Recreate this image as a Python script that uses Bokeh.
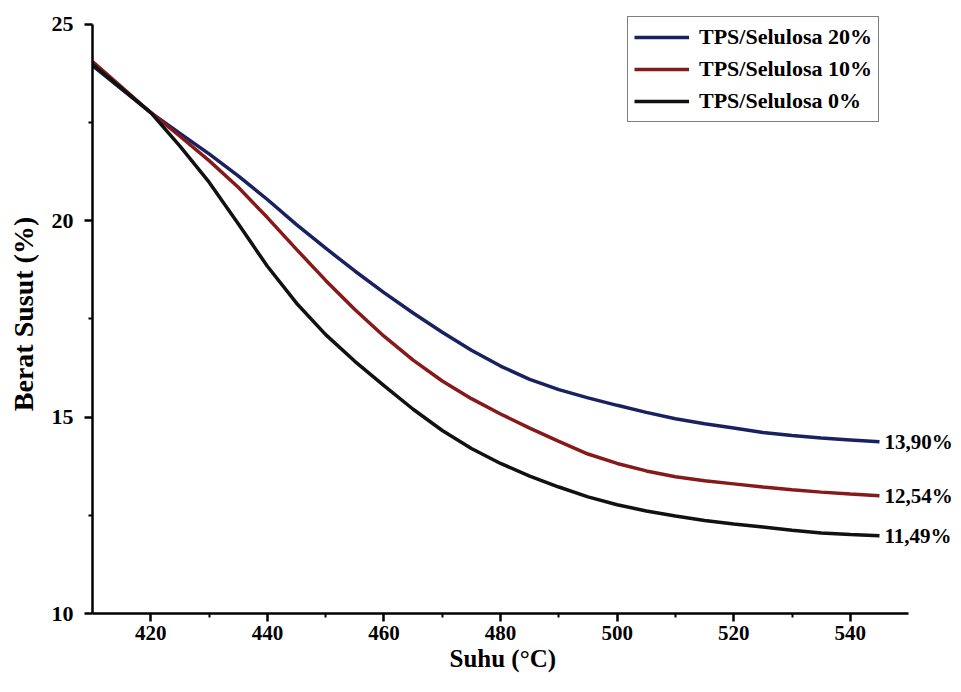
from bokeh.plotting import figure
from bokeh.models import FixedTicker, Legend, LegendItem, Label, Range1d, Title
from bokeh.embed import file_html
from bokeh.resources import INLINE

# ---- data ----
suhu = [410, 415, 420, 425, 430, 435, 440, 445, 450, 455, 460, 465, 470, 475,
        480, 485, 490, 495, 500, 505, 510, 515, 520, 525, 530, 535, 540, 545]
tps20 = [23.95, 23.35, 22.75, 22.22, 21.70, 21.14, 20.54, 19.90, 19.30, 18.72,
         18.17, 17.65, 17.16, 16.70, 16.30, 15.96, 15.70, 15.49, 15.30, 15.12,
         14.96, 14.83, 14.72, 14.61, 14.53, 14.47, 14.42, 14.37]
tps10 = [24.05, 23.40, 22.75, 22.15, 21.53, 20.85, 20.08, 19.27, 18.48, 17.74,
         17.06, 16.45, 15.92, 15.47, 15.08, 14.72, 14.38, 14.06, 13.82, 13.63,
         13.48, 13.38, 13.30, 13.22, 13.15, 13.09, 13.04, 13.00]
tps0 = [23.98, 23.37, 22.75, 21.90, 20.98, 19.92, 18.84, 17.90, 17.10, 16.42,
        15.80, 15.20, 14.66, 14.20, 13.82, 13.50, 13.22, 12.97, 12.77, 12.61,
        12.48, 12.37, 12.28, 12.20, 12.12, 12.05, 12.01, 11.98]
series_names = ["TPS/Selulosa 20%", "TPS/Selulosa 10%", "TPS/Selulosa 0%"]
end_labels = ["13,90%", "12,54%", "11,49%"]
x_ticks = [420, 440, 460, 480, 500, 520, 540]
x_minor = [430, 450, 470, 490, 510, 530]
y_ticks = [10, 15, 20, 25]
y_minor = [12.5, 17.5, 22.5]

FONT = "Liberation Serif"
colors = ["#1a2160", "#861a1a", "#111111"]

p = figure(width=953, height=684, output_backend="svg", toolbar_location=None,
           x_range=Range1d(410, 557.7), y_range=Range1d(10, 25.25),
           min_border_left=92, min_border_right=0, min_border_top=14,
           min_border_bottom=71)
p.outline_line_color = None
p.xgrid.visible = False
p.ygrid.visible = False
p.background_fill_color = "white"

series = [tps20, tps10, tps0]
renderers = []
for ys, c in zip(series, colors):
    r = p.line(suhu, ys, line_color=c, line_width=3.5)
    renderers.append(r)

# end-value labels
for ys, txt in zip(series, end_labels):
    p.add_layout(Label(x=suhu[-1], y=ys[-1], text=txt, x_offset=5,
                       text_baseline="middle", text_align="left",
                       text_font=FONT, text_font_style="bold",
                       text_font_size="21px", text_color="black"))

# axes
for ax in [p.xaxis[0], p.yaxis[0]]:
    ax.axis_line_width = 2.5
    ax.axis_line_color = "black"
    ax.major_tick_line_width = 2.5
    ax.major_tick_line_color = "black"
    ax.minor_tick_line_width = 2
    ax.minor_tick_line_color = "black"
    ax.major_tick_in = 0
    ax.major_tick_out = 8
    ax.minor_tick_in = 0
    ax.minor_tick_out = 4
    ax.major_label_text_font = FONT
    ax.major_label_text_font_style = "bold"
    ax.major_label_text_font_size = "21px"
    ax.major_label_text_color = "black"
    ax.axis_label_text_font = FONT
    ax.axis_label_text_font_style = "bold"
    ax.axis_label_text_color = "black"

p.xaxis[0].ticker = FixedTicker(ticks=x_ticks, minor_ticks=x_minor)
p.yaxis[0].ticker = FixedTicker(ticks=y_ticks, minor_ticks=y_minor)
p.xaxis[0].bounds = (410, 550)
p.yaxis[0].bounds = (10, 25)
p.yaxis[0].axis_label = "Berat Susut (%)"
p.yaxis[0].axis_label_text_font_size = "28px"
p.yaxis[0].major_label_text_font_size = "22px"
p.xaxis[0].major_label_standoff = 4
p.yaxis[0].major_label_standoff = 11
p.yaxis[0].axis_label_standoff = 10

# x-axis title, centred under the axis line (410..550) rather than the frame
xt = Title(text="Suhu (°C)", align="left", offset=357, standoff=0,
           text_font=FONT, text_font_style="bold", text_font_size="25px",
           text_color="black")
p.add_layout(xt, "below")

legend = Legend(items=[LegendItem(label=n, renderers=[r]) for n, r in zip(series_names, renderers)],
                location=(535, 491))
legend.label_text_font = FONT
legend.label_text_font_style = "bold"
legend.label_text_font_size = "22px"
legend.label_text_color = "black"
legend.glyph_width = 55
legend.glyph_height = 28
legend.label_height = 28
legend.label_standoff = 10
legend.padding = 6
legend.spacing = 4
legend.margin = 0
legend.border_line_color = "black"
legend.border_line_width = 1.5
legend.background_fill_alpha = 1
p.add_layout(legend)

open("out.html", "w").write(file_html(p, INLINE))
